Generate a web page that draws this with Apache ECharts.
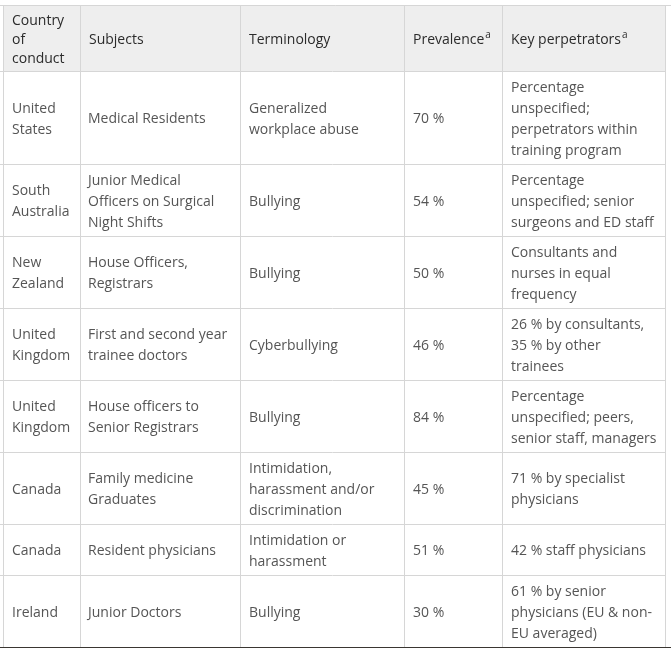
<!DOCTYPE html>
<html>
<head>
    <meta charset="utf-8">
    <title>Workplace abuse table</title>
    <script src="https://cdn.jsdelivr.net/npm/echarts@6/dist/echarts.min.js"></script>
    <style>
        html, body { margin: 0; padding: 0; background: #fff; }
    </style>
</head>
<body>
<div id="main" style="width: 671px;height:648px;"></div>
<script type="text/javascript">
    // table contents (line breaks as in the reference)
    var headers = ['Country\nof\nconduct', 'Subjects', 'Terminology', 'Prevalence', 'Key perpetrators'];
    var headerSup = [false, false, false, true, true];

    var countries = ['United\nStates', 'South\nAustralia', 'New\nZealand', 'United\nKingdom', 'United\nKingdom', 'Canada', 'Canada', 'Ireland'];
    var subjects = ['Medical Residents', 'Junior Medical\nOfficers on Surgical\nNight Shifts', 'House Officers,\nRegistrars',
        'First and second year\ntrainee doctors', 'House officers to\nSenior Registrars', 'Family medicine\nGraduates',
        'Resident physicians', 'Junior Doctors'];
    var terminology = ['Generalized\nworkplace abuse', 'Bullying', 'Bullying', 'Cyberbullying', 'Bullying',
        'Intimidation,\nharassment and/or\ndiscrimination', 'Intimidation or\nharassment', 'Bullying'];
    var prevalence = [70, 54, 50, 46, 84, 45, 51, 30];
    var perpetrators = ['Percentage\nunspecified;\nperpetrators within\ntraining program',
        'Percentage\nunspecified; senior\nsurgeons and ED staff',
        'Consultants and\nnurses in equal\nfrequency',
        '26 % by consultants,\n35 % by other\ntrainees',
        'Percentage\nunspecified; peers,\nsenior staff, managers',
        '71 % by specialist\nphysicians',
        '42 % staff physicians',
        '61 % by senior\nphysicians (EU & non-\nEU averaged)'];

    // layout
    var colX = [3, 80, 240, 404, 502, 665];
    var tableTop = 5;
    var padX = 9;
    var lineH = 21, headLineH = 19, padY = 9;
    var textShift = 2;
    var border = '#d6d6d6';
    var fontFamily = '"Open Sans", "Noto Sans", sans-serif';

    function nLines(s) { return String(s).split('\n').length; }

    var elements = [];
    var rowTops = [];

    // header
    var headH = Math.max.apply(null, headers.map(nLines)) * headLineH + padY;
    elements.push({
        type: 'rect', shape: { x: colX[0], y: tableTop, width: colX[5] - colX[0], height: headH },
        style: { fill: '#eeeeee' }, silent: true
    });
    headers.forEach(function (h, i) {
        var txt = headerSup[i] ? '{m|' + h + '}{s|a}' : '{m|' + h + '}';
        elements.push({
            type: 'text',
            style: {
                x: colX[i] + padX, y: tableTop + headH / 2 + textShift,
                text: txt, verticalAlign: 'middle',
                rich: {
                    m: { fontFamily: fontFamily, fontSize: 14, lineHeight: headLineH, fill: '#2b2b2b' },
                    s: { fontFamily: fontFamily, fontSize: 10, lineHeight: 12, fill: '#2b2b2b', verticalAlign: 'top', padding: [0, 0, 0, 1] }
                }
            },
            silent: true
        });
    });

    // body
    var y = tableTop + headH;
    rowTops.push(tableTop);
    countries.forEach(function (c, r) {
        var cells = [c, subjects[r], terminology[r], prevalence[r] + ' %', perpetrators[r]];
        var h = Math.max.apply(null, cells.map(nLines)) * lineH + padY;
        rowTops.push(y);
        cells.forEach(function (t, i) {
            elements.push({
                type: 'text',
                style: {
                    x: colX[i] + padX - (i === 1 ? 1 : 0), y: y + h / 2 + textShift,
                    text: t, verticalAlign: 'middle',
                    fontFamily: fontFamily, fontSize: 14, lineHeight: lineH, fill: '#555'
                },
                silent: true
            });
        });
        y += h;
    });
    rowTops.push(y);

    // grid lines
    rowTops.forEach(function (ry, k) {
        elements.push({
            type: 'line', shape: { x1: 0, y1: ry + 0.5, x2: k === 0 ? 671 : colX[5], y2: ry + 0.5 },
            style: { stroke: border, lineWidth: 1 }, silent: true
        });
    });
    colX.forEach(function (cx) {
        elements.push({
            type: 'line', shape: { x1: cx + 0.5, y1: tableTop, x2: cx + 0.5, y2: y },
            style: { stroke: border, lineWidth: 1 }, silent: true
        });
    });
    // dark edge at the bottom of the screenshot
    elements.push({
        type: 'rect', shape: { x: 0, y: 647, width: 671, height: 1 },
        style: { fill: '#3a3632' }, silent: true
    });

    var myChart = echarts.init(document.getElementById('main'));
    myChart.setOption({
        backgroundColor: '#fff',
        animation: false,
        graphic: { elements: elements }
    });
</script>
</body>
</html>
